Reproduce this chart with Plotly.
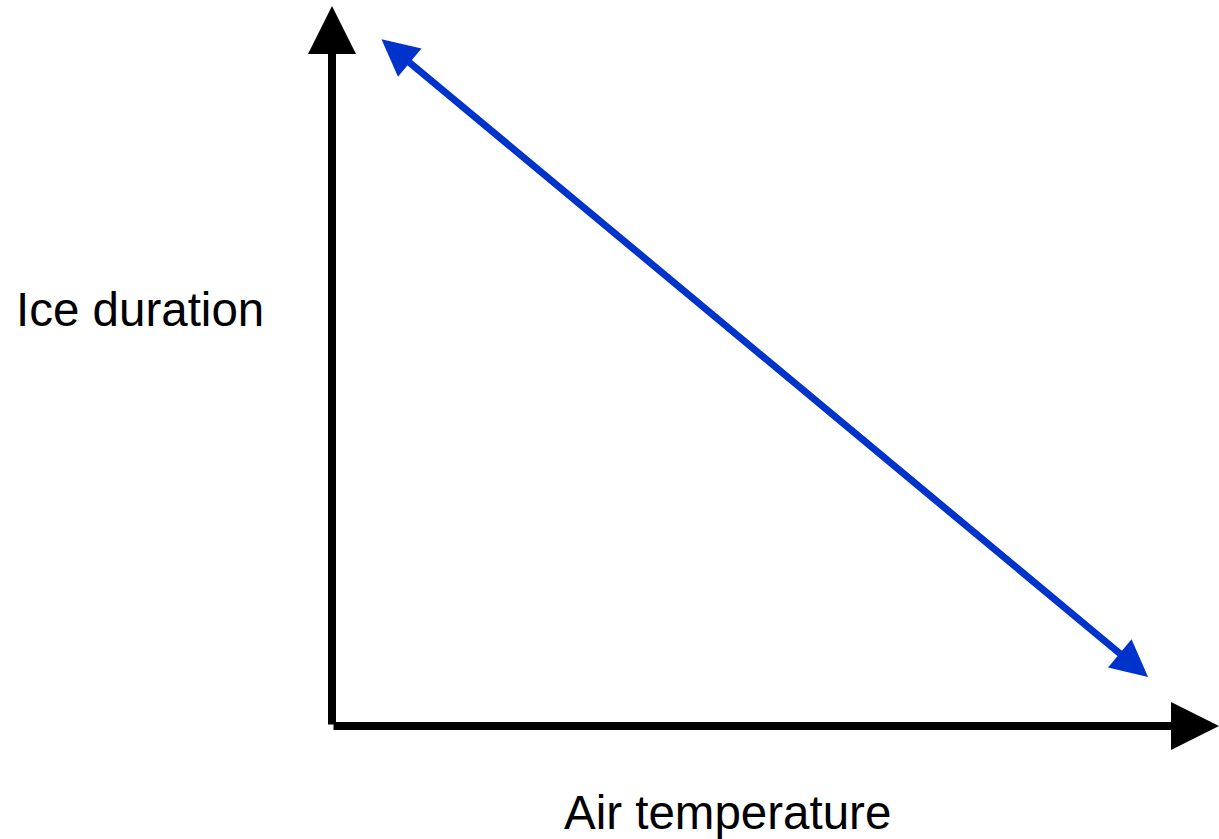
import plotly.graph_objects as go

# Conceptual data (arbitrary units)
axis_origin = [0, 0]
x_axis_end = [10, 0]
y_axis_end = [0, 10]
trend_start = [0.541, 9.556]   # long ice duration at low air temperature
trend_end = [9.2, 0.681]       # short ice duration at high air temperature
x_label = "Air temperature"
y_label = "Ice duration"

W, H = 1219, 839
x_range = [-3.743, 10.0]
y_range = [-1.5694, 10.0833]

fig = go.Figure()
fig.add_trace(go.Scatter(x=[trend_start[0], trend_end[0]], y=[trend_start[1], trend_end[1]],
                         mode="lines", line=dict(width=0, color="rgba(0,0,0,0)"),
                         hoverinfo="skip", showlegend=False))

def arrow(tip, tail, color, width, size, both=False):
    fig.add_annotation(x=tip[0], y=tip[1], ax=tail[0], ay=tail[1],
                       xref="x", yref="y", axref="x", ayref="y",
                       text="", showarrow=True,
                       arrowhead=2, arrowsize=size, arrowwidth=width, arrowcolor=color,
                       startarrowhead=2, startarrowsize=size,
                       arrowside="end+start" if both else "end",
                       standoff=0, startstandoff=0)

arrow(x_axis_end, axis_origin, "black", 8, 1.2)
arrow(y_axis_end, axis_origin, "black", 8, 1.2)
arrow(trend_end, trend_start, "#0033cc", 7, 1.05, both=True)

fig.add_annotation(x=-2.165, y=5.778, xref="x", yref="y", text=y_label, showarrow=False,
                   font=dict(family="Liberation Sans, Arial", size=47.5, color="black"),
                   xanchor="center", yanchor="middle")
fig.add_annotation(x=4.459, y=-1.201, xref="x", yref="y", text=x_label, showarrow=False,
                   font=dict(family="Liberation Sans, Arial", size=47.5, color="black"),
                   xanchor="center", yanchor="middle")

fig.update_layout(width=W, height=H, margin=dict(l=0, r=0, t=0, b=0),
                  paper_bgcolor="white", plot_bgcolor="white", showlegend=False,
                  xaxis=dict(range=x_range, visible=False, fixedrange=True),
                  yaxis=dict(range=y_range, visible=False, fixedrange=True))

fig.write_html("out.html", config={"displayModeBar": False},
               post_script="document.body.style.margin='0';document.body.style.overflow='hidden';")
